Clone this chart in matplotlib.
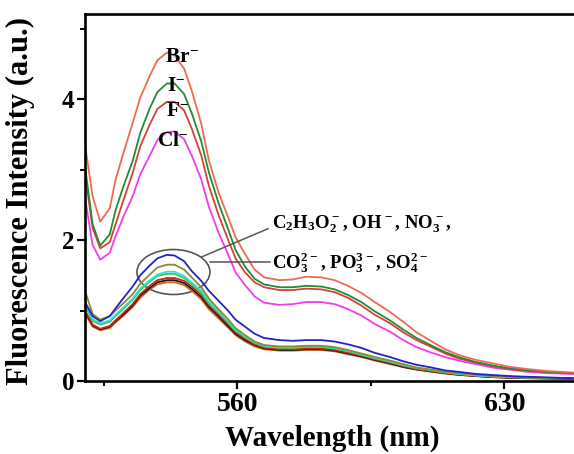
import matplotlib
matplotlib.use("Agg")
import matplotlib.pyplot as plt
from matplotlib.patches import Ellipse
from matplotlib.ticker import MultipleLocator

plt.rcParams['font.family'] = ['Liberation Serif', 'DejaVu Serif']
plt.rcParams['font.weight'] = 'bold'
plt.rcParams['mathtext.default'] = 'regular'

# Emission wavelengths (nm)
wavelength = [520, 522, 524, 526.5, 528, 530, 532.5, 534.5, 537, 539, 541.5, 543.5,
              546, 548, 550.5, 552.5, 555, 557.5, 559.5, 562, 564.5, 567, 571, 574.5,
              578, 582, 585.5, 589, 592.5, 596, 600, 603.5, 607, 611, 614.5, 618,
              622.5, 627, 631.5, 636, 641.5, 648]

# Halide responses
br = [3.35, 2.62, 2.26, 2.45, 2.85, 3.22, 3.66, 4.02, 4.33, 4.55, 4.66, 4.62,
      4.43, 4.12, 3.65, 3.13, 2.68, 2.33, 2.04, 1.80, 1.58, 1.47, 1.43, 1.44,
      1.48, 1.47, 1.43, 1.35, 1.25, 1.12, 0.98, 0.84, 0.69, 0.56, 0.45, 0.37,
      0.30, 0.25, 0.20, 0.17, 0.14, 0.12]
iodide = [3.05, 2.22, 1.92, 2.08, 2.42, 2.75, 3.12, 3.52, 3.87, 4.10, 4.22, 4.22,
          4.07, 3.80, 3.40, 2.96, 2.53, 2.16, 1.86, 1.62, 1.45, 1.37, 1.33, 1.33,
          1.35, 1.34, 1.30, 1.22, 1.12, 0.99, 0.86, 0.73, 0.61, 0.50, 0.41, 0.34,
          0.27, 0.22, 0.18, 0.15, 0.13, 0.11]
fluoride = [2.95, 2.17, 1.88, 1.97, 2.22, 2.55, 2.95, 3.33, 3.64, 3.86, 3.96, 3.96,
            3.84, 3.58, 3.20, 2.77, 2.36, 2.01, 1.74, 1.54, 1.40, 1.33, 1.29, 1.29,
            1.31, 1.30, 1.26, 1.18, 1.07, 0.94, 0.82, 0.69, 0.58, 0.48, 0.39, 0.32,
            0.26, 0.21, 0.17, 0.15, 0.13, 0.11]
chloride = [2.60, 1.93, 1.72, 1.82, 2.05, 2.32, 2.62, 2.93, 3.20, 3.42, 3.53, 3.54,
            3.43, 3.20, 2.86, 2.47, 2.11, 1.80, 1.54, 1.36, 1.20, 1.11, 1.08, 1.09,
            1.12, 1.12, 1.09, 1.02, 0.93, 0.81, 0.70, 0.58, 0.48, 0.40, 0.34, 0.29,
            0.24, 0.19, 0.16, 0.13, 0.11, 0.10]

# Other anions and blank
low_blue = [1.12, 0.92, 0.85, 0.92, 1.03, 1.17, 1.34, 1.50, 1.64, 1.74, 1.79, 1.78,
            1.70, 1.56, 1.42, 1.28, 1.14, 1.00, 0.87, 0.77, 0.67, 0.61, 0.58, 0.57,
            0.58, 0.58, 0.56, 0.52, 0.47, 0.40, 0.34, 0.28, 0.23, 0.19, 0.15, 0.13,
            0.10, 0.085, 0.07, 0.06, 0.05, 0.04]
low_olive = [1.28, 0.95, 0.87, 0.92, 1.00, 1.10, 1.23, 1.38, 1.51, 1.61, 1.65, 1.65,
             1.58, 1.47, 1.33, 1.17, 1.02, 0.88, 0.75, 0.65, 0.56, 0.51, 0.49, 0.49,
             0.50, 0.50, 0.48, 0.44, 0.39, 0.34, 0.29, 0.24, 0.19, 0.16, 0.13, 0.11,
             0.09, 0.07, 0.06, 0.05, 0.045, 0.04]
low_cyan = [1.12, 0.88, 0.82, 0.86, 0.94, 1.04, 1.17, 1.31, 1.43, 1.51, 1.55, 1.55,
            1.49, 1.40, 1.28, 1.13, 0.99, 0.85, 0.73, 0.63, 0.55, 0.50, 0.48, 0.48,
            0.49, 0.49, 0.47, 0.43, 0.38, 0.33, 0.28, 0.23, 0.19, 0.155, 0.125, 0.10,
            0.08, 0.065, 0.055, 0.05, 0.045, 0.04]
low_green = [1.08, 0.85, 0.80, 0.84, 0.92, 1.02, 1.15, 1.29, 1.41, 1.49, 1.52, 1.52,
             1.46, 1.37, 1.25, 1.10, 0.97, 0.83, 0.71, 0.62, 0.54, 0.49, 0.47, 0.47,
             0.48, 0.48, 0.46, 0.42, 0.37, 0.32, 0.27, 0.22, 0.18, 0.15, 0.12, 0.10,
             0.08, 0.065, 0.055, 0.05, 0.045, 0.04]
low_red = [1.00, 0.80, 0.74, 0.78, 0.86, 0.96, 1.09, 1.23, 1.35, 1.43, 1.46, 1.46,
           1.42, 1.34, 1.22, 1.08, 0.95, 0.81, 0.69, 0.60, 0.52, 0.47, 0.45, 0.45,
           0.46, 0.46, 0.44, 0.40, 0.36, 0.31, 0.26, 0.21, 0.17, 0.14, 0.115, 0.095,
           0.075, 0.06, 0.05, 0.045, 0.04, 0.035]
low_black = [0.98, 0.79, 0.73, 0.77, 0.85, 0.94, 1.07, 1.21, 1.32, 1.40, 1.43, 1.43,
             1.39, 1.31, 1.19, 1.05, 0.92, 0.78, 0.67, 0.58, 0.51, 0.46, 0.44, 0.44,
             0.45, 0.45, 0.43, 0.39, 0.35, 0.30, 0.25, 0.20, 0.165, 0.135, 0.11, 0.09,
             0.07, 0.055, 0.045, 0.04, 0.035, 0.03]
low_orange = [0.96, 0.77, 0.72, 0.75, 0.83, 0.92, 1.05, 1.18, 1.30, 1.37, 1.40, 1.40,
              1.36, 1.28, 1.16, 1.02, 0.89, 0.76, 0.65, 0.56, 0.49, 0.45, 0.43, 0.43,
              0.44, 0.44, 0.42, 0.38, 0.34, 0.29, 0.24, 0.195, 0.16, 0.13, 0.105, 0.085,
              0.07, 0.055, 0.045, 0.04, 0.035, 0.03]

halide_labels = ['Br$^{-}$', 'I$^{-}$', 'F$^{-}$', 'Cl$^{-}$']
halide_label_pos = [(541.0, 4.53), (541.5, 4.11), (541.2, 3.76), (538.9, 3.33)]
anion_text_1 = 'C$_2$H$_3$O$_2^-$, OH$^-$, NO$_3^-$,'
anion_text_2 = 'CO$_3^{2-}$, PO$_3^{3-}$, SO$_4^{2-}$'

fig = plt.figure(figsize=(5.74, 4.54), dpi=100)
ax = fig.add_axes([85 / 574, 73 / 454, 489 / 574, 367 / 454])

low_series = [(low_orange, '#d2691e'), (low_black, '#1a1a1a'), (low_red, '#c81e1e'),
              (low_green, '#2ecc52'), (low_cyan, '#33e0e0'), (low_olive, '#8c8a2a'),
              (low_blue, '#2222cc')]
for vals, col in low_series:
    ax.plot(wavelength, vals, color=col, lw=1.3)

high_series = [(chloride, '#ee3cee'), (fluoride, '#d6403a'),
               (iodide, '#248a34'), (br, '#ee6a52')]
for vals, col in high_series:
    ax.plot(wavelength, vals, color=col, lw=1.3)

for lab, (x, y) in zip(halide_labels, halide_label_pos):
    ax.text(x, y, lab, fontsize=15.5, fontweight='bold', ha='left', va='baseline')

ax.add_patch(Ellipse((543.2, 1.546), 19.15, 0.638, fill=False,
                     ec='#555555', lw=1.2))
ax.plot([550.6, 568.0], [1.76, 2.16], color='#555555', lw=1.1)
ax.plot([552.8, 568.5], [1.685, 1.685], color='#555555', lw=1.1)
ax.text(569.1, 2.16, anion_text_1, fontsize=13.5, fontweight='bold',
        ha='left', va='baseline')
ax.text(569.1, 1.60, anion_text_2, fontsize=13.5, fontweight='bold',
        ha='left', va='baseline')

ax.set_xlim(520, 648.3)
ax.set_ylim(0, 5.206)
ax.xaxis.set_major_locator(MultipleLocator(70))
ax.xaxis.set_minor_locator(MultipleLocator(35))
ax.yaxis.set_major_locator(MultipleLocator(2))
ax.yaxis.set_minor_locator(MultipleLocator(1))

for side in ['left', 'bottom', 'top']:
    ax.spines[side].set_linewidth(1.9)
ax.spines['right'].set_visible(False)

ax.tick_params(which='major', direction='out', length=5.8, width=1.6,
               top=False, right=False)
ax.tick_params(which='minor', direction='out', length=3.3, width=1.4,
               top=False, right=False)
ax.tick_params(axis='x', which='major', labelsize=20, pad=2)
ax.tick_params(axis='y', which='major', labelsize=18, pad=2)
for lbl in ax.get_xticklabels() + ax.get_yticklabels():
    lbl.set_fontweight('bold')

ax.set_xlabel('Wavelength (nm)', fontsize=21, fontweight='bold')
ax.set_ylabel('Fluorescence Intensity (a.u.)', fontsize=22, fontweight='bold')
ax.xaxis.set_label_coords(0.505, -0.12)
ax.yaxis.set_label_coords(-0.102, 0.49)

fig.savefig('out.png', dpi=100)
